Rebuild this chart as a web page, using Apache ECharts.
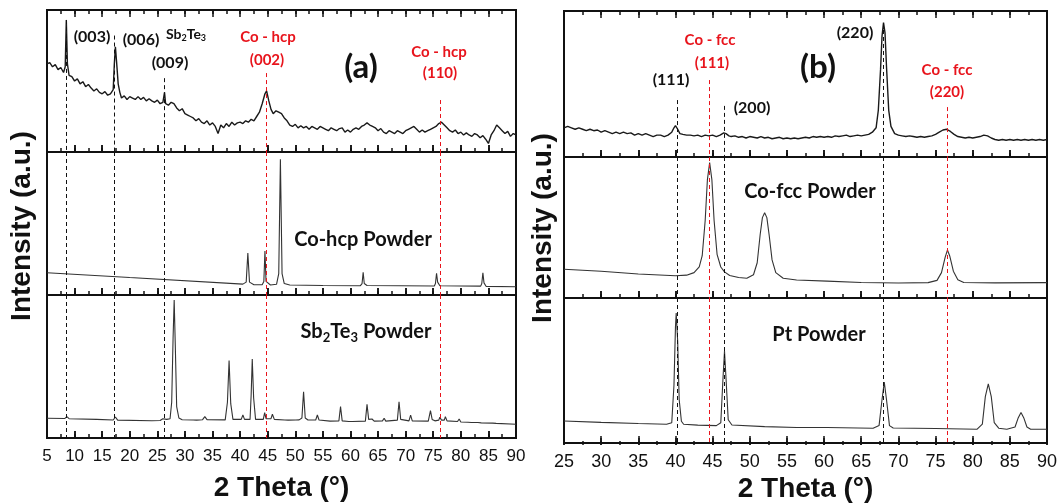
<!DOCTYPE html>
<html>
<head>
<meta charset="utf-8">
<script src="https://cdn.jsdelivr.net/npm/echarts@6/dist/echarts.min.js"></script>
<style>
  html, body { margin: 0; background: #fff; }
  #chart { width: 1061px; height: 504px; }
</style>
</head>
<body>
<div id="chart"></div>
<script>
// 2 theta ranges of the two panels
const rangeA = [5, 90];
const rangeB = [25, 90];

// (a) Co / Sb2Te3 film scan  [2theta, intensity]
const filmA = [
  [5,62],[5.5,63],[6,60],[6.5,61.5],[7,58],[7.5,59.5],[8,56],[8.3,60],[8.5,93],[8.7,62],[9,54],[9.5,53],
  [10,50],[10.5,51.5],[11,48],[11.5,49.5],[12,46],[12.5,47.5],[13,45],[13.5,43],[14,44.5],[14.5,42],
  [15,41],[15.5,42.5],[16,40],[16.5,41],[17,44],[17.2,62],[17.4,74],[17.6,64],[17.9,48],[18.2,42],
  [18.5,38],[19,39.5],[19.5,37],[20,39],[20.5,38],[21,37],[21.5,39],[22,37],[22.5,38.5],[23,36],
  [23.5,37.5],[24,36],[24.5,35],[25,36.5],[25.5,34],[26,35],[26.3,42],[26.5,34],[27,33],[27.5,35],
  [28,34],[28.5,31],[29,29],[29.5,30.5],[30,27],[30.5,26],[31,25],[31.5,24],[32,22],[32.5,23.5],
  [33,21],[33.5,20],[34,22],[34.5,19],[35,20.5],[35.5,18],[36,13],[36.5,19],[37,17],[37.5,20],
  [38,18],[38.5,21],[39,19],[39.5,20.5],[40,21],[40.5,20],[41,22],[41.5,21],[42,23],[42.5,22],
  [43,25],[43.5,28],[44,34],[44.5,41],[44.8,43],[45.2,36],[45.6,30],[46,27],[46.5,29],[47,28],
  [47.5,27],[48,24],[48.5,22],[49,19],[49.5,18],[50,19.5],[50.5,17],[51,18.5],[51.5,17],[52,18],
  [52.5,16],[53,18],[53.5,17],[54,16],[54.5,18],[55,17],[55.5,16],[56,15],[56.5,17],[57,16],
  [57.5,15],[58,16.5],[58.5,17],[59,14],[59.5,15.5],[60,14],[60.5,16],[61,17],[61.5,16],[62,18],
  [62.5,19],[63,20.5],[63.5,19],[64,18],[64.5,17],[65,15],[65.5,16.5],[66,14],[66.5,13],[67,15],
  [67.5,14],[68,13],[68.5,15],[69,14],[69.5,13],[70,15],[70.5,16],[71,17],[71.5,18],[72,16],
  [72.5,14],[73,15.5],[73.5,14],[74,15],[74.5,16],[75,17],[75.5,18],[76,20],[76.5,21],[77,19],
  [77.5,17],[78,15],[78.5,14],[79,15.5],[79.5,13],[80,14],[80.5,12],[81,13.5],[81.5,12],[82,11],
  [82.5,13],[83,12],[83.5,10],[84,11.5],[84.5,9],[85,6],[85.5,12],[86,15],[86.5,19],[87,17],
  [87.5,15],[88,13],[88.5,14.5],[89,11],[89.5,13],[90,12]
];

// (a) Co-hcp powder
const coHcp = [
  [5,15.6],[20,12.2],[40.5,7.6],[41.1,9],[41.4,29.4],[41.7,9],[42.5,7.2],[44,7.2],[44.3,9.5],
  [44.5,30.8],[44.7,9.5],[45.5,7],[46.6,7.5],[47,15],[47.3,95],[47.6,15],[48,8],[49,7],[55,6.6],
  [61.8,6.5],[62.1,8],[62.3,15.9],[62.5,8],[63,6.6],[75.2,6.3],[75.4,8],[75.6,15.2],[75.8,9],
  [76.2,6.5],[83.6,6.2],[83.8,8],[84,15.6],[84.2,8.5],[84.6,6],[90,5.8]
];

// (a) Sb2Te3 powder
const sb2te3 = [
  [5,13.8],[8.2,13.6],[8.6,14.9],[9,13.5],[14,13],[17,12.6],[17.4,14.7],[17.8,12.5],[24,12.1],
  [25.5,12.2],[26,13.5],[26.3,14.2],[26.7,13],[27.3,13.5],[27.6,25],[27.85,70],[28.05,96.5],
  [28.25,65],[28.5,22],[28.9,14],[29.5,12.8],[31.5,12.6],[31.8,13.2],[32.1,12.5],[33.2,12.8],
  [33.6,14.9],[34,12.8],[37.3,12.7],[37.7,25],[38,54.1],[38.3,24],[38.7,13],[40.2,13],[40.5,16.1],
  [40.8,13],[41.8,13],[42,30],[42.2,55.2],[42.45,28],[42.8,13],[44.2,13],[44.45,17.7],[44.7,13.5],
  [45.6,13.5],[45.85,16.6],[46.2,13],[48.1,12.6],[48.4,13.5],[48.7,12.5],[50.1,12.6],[50.4,13.1],
  [50.7,12.7],[51.2,14],[51.5,32.4],[51.8,14],[52.3,12.6],[53.7,12.6],[54,16.1],[54.3,12.6],
  [56.3,11.8],[57.9,12],[58.2,21.9],[58.5,12],[59.7,11.5],[60,12.5],[60.4,11.5],[62.7,11.8],
  [63,23.5],[63.3,13],[63.9,13.3],[64.3,11.8],[65.8,12],[66.1,13.8],[66.4,11.8],[68.5,12.5],
  [68.8,25.4],[69.1,13],[70.6,12],[70.9,16],[71.2,12],[74.1,11.8],[74.5,19.1],[74.8,13],[75.3,12],
  [76,12.5],[76.2,14.5],[76.5,12.5],[77,12.5],[77.2,14.9],[77.5,12],[79.4,11.5],[79.7,13.3],
  [80,11.2],[81.3,11],[81.6,12.2],[81.9,10.8],[83.1,10.8],[83.4,11.5],[83.7,10.6],[85.8,10.4],
  [86.1,11],[86.4,10.2],[90,9.6]
];

// (b) Co / Pt film scan
const filmB = [
  [25,20],[25.5,21],[26,20],[26.5,19],[27,20],[27.5,19],[28,18],[28.5,19],[29,18],[29.5,18.5],
  [30,17],[30.5,18],[31,17],[31.5,16],[32,17],[32.5,16],[33,17],[33.5,16],[34,16.5],[34.5,15],
  [35,16],[35.5,15],[36,16],[36.5,15],[37,14],[37.5,15],[38,15],[38.5,14],[39,15],[39.5,17],
  [39.8,20],[40,21.5],[40.3,19],[40.6,16],[41,15.5],[41.5,15],[42,15],[42.5,14.5],[43,15],
  [43.5,14],[44,15],[44.5,14.5],[45,15],[45.5,14],[46,15],[46.5,16.5],[46.8,16],[47.2,14.5],
  [47.5,14],[48,14.5],[48.5,13.5],[49,14],[49.5,13],[50,14],[50.5,13.5],[51,13],[51.5,14],
  [52,13],[52.5,13.5],[53,12.5],[53.5,13],[54,13.5],[54.5,12.5],[55,13],[55.5,12.5],[56,13],
  [56.5,12.5],[57,13],[57.5,13.5],[58,13],[58.5,14],[59,13.5],[59.5,14],[60,13.5],[60.5,14],
  [61,13.5],[61.5,14.5],[62,14],[62.5,14.5],[63,15],[63.5,14],[64,14.5],[64.5,15],[65,14.5],
  [65.5,15],[66,15.5],[66.5,17],[67,20],[67.3,32],[67.6,60],[67.8,83],[68,92],[68.2,85],[68.4,62],
  [68.7,32],[69,21],[69.5,16],[70,15],[70.5,14.5],[71,14],[71.5,14.5],[72,14],[72.5,13.5],[73,14],
  [73.5,13.5],[74,14],[74.5,14.5],[75,15.5],[75.5,17],[76,18.5],[76.5,19],[77,17.5],[77.5,15.5],
  [78,14],[78.5,13.5],[79,13],[79.5,13.5],[80,13],[80.5,13.5],[81,14],[81.5,15],[82,14.5],[82.5,13],
  [83,12],[83.5,11.5],[84,12],[84.5,11.5],[85,12],[85.5,11.5],[86,12],[86.5,11.5],[87,12],
  [87.5,11.5],[88,12],[88.5,11.5],[89,12],[89.5,11.5],[90,12]
];

// (b) Co-fcc powder
const coFcc = [
  [25,20.4],[30,19],[35,17],[40,15.8],[41.5,16.2],[42.5,18],[43.2,22],[43.6,30],[44,55],[44.3,84],
  [44.6,96],[44.9,84],[45.2,55],[45.6,31],[46.1,22],[46.6,18.5],[47.3,16],[48.5,14.5],[49.6,14],
  [50.5,16.5],[51,25],[51.4,45],[51.7,57],[52,60.5],[52.3,57],[52.6,45],[53,27],[53.5,18],
  [54.5,14],[56.3,12.8],[60.4,12],[65,11],[70,10.6],[74,10.9],[75.2,12.5],[75.8,18],[76.3,29],
  [76.6,34],[76.9,30],[77.4,19],[78,13],[78.8,11],[83,10.7],[90,10.9]
];

// (b) Pt powder
const ptPowder = [
  [25,15.2],[30,14.2],[35,13.4],[38.8,12.9],[39.5,14],[39.8,40],[40,80],[40.1,89.6],[40.3,70],
  [40.5,30],[40.8,15],[41.1,12.9],[43,12.3],[45.5,12],[46.1,14],[46.4,45],[46.6,63.5],[46.8,45],
  [47.1,16],[47.6,12.4],[52,11.3],[56.3,10.7],[60.4,10.7],[66.6,10.2],[67.4,12],[67.8,30],
  [68.1,42],[68.4,30],[68.8,12],[69.3,10.3],[75,10],[80.6,9.5],[81.3,13],[81.7,32],[82.1,40.8],
  [82.5,32],[82.9,14],[83.5,10.2],[84.6,9.5],[85.7,11],[86.1,17],[86.5,21.1],[86.9,17],[87.3,11],
  [87.8,9.5],[90,9.5]
];

// reference positions [2theta, where the dash starts in the top panel]
const refA = [[8.4, 93], [17.2, 82], [26.3, 52]];
const refACo = [[44.7, 55.6], [76.3, 36.6]];
const refB = [[40.2, 39], [46.6, 35], [68.0, 91.8]];
const refBCo = [[44.5, 52.7], [76.6, 34.2]];

const BLACK = '#111';
const RED = '#e8141c';

const chart = echarts.init(document.getElementById('chart'));

// panel boxes
const panels = [
  { left: 47, top: 10, width: 469, height: 142 },
  { left: 47, top: 152, width: 469, height: 143 },
  { left: 47, top: 295, width: 469, height: 143 },
  { left: 564, top: 11, width: 483, height: 146 },
  { left: 564, top: 157, width: 483, height: 141 },
  { left: 564, top: 298, width: 483, height: 147 },
];
const grids = panels.map(p => Object.assign({}, p, { show: true, borderColor: BLACK, borderWidth: 2 }));

const xAxes = [];
const yAxes = [];
panels.forEach((p, i) => {
  const range = i < 3 ? rangeA : rangeB;
  const isBottom = i === 2 || i === 5;
  const ax = {
    type: 'value', gridIndex: i, min: range[0], max: range[1], interval: 5,
    axisLine: { show: true, onZero: false, lineStyle: { color: BLACK, width: 2 } },
    axisTick: { show: true, inside: true, length: 7, lineStyle: { color: BLACK, width: 1.5 } },
    axisLabel: isBottom
      ? { show: true, color: BLACK, fontFamily: 'Liberation Sans', fontSize: i < 3 ? 17 : 18, margin: 10 }
      : { show: false },
    splitLine: { show: false },
  };
  if (isBottom) {
    Object.assign(ax, {
      name: '2 Theta (°)', nameLocation: 'middle', nameGap: i < 3 ? 36 : 32,
      nameTextStyle: { fontFamily: 'Liberation Sans', fontWeight: 'bold', fontSize: 28, color: BLACK },
    });
  }
  xAxes.push(ax);
  yAxes.push({ type: 'value', gridIndex: i, min: 0, max: 100, show: false });
});

// inward tick marks: thin strips along panel edges whose split lines act as ticks
function tickStrip(p, i, atTop, step, len) {
  const range = i < 3 ? rangeA : rangeB;
  const gi = grids.length;
  grids.push({ left: p.left, width: p.width, top: atTop ? p.top : p.top + p.height - len, height: len, show: false });
  xAxes.push({
    type: 'value', gridIndex: gi, min: range[0], max: range[1], interval: step,
    axisLine: { show: false }, axisTick: { show: false }, axisLabel: { show: false },
    splitLine: { show: true, lineStyle: { color: BLACK, width: 1.5 } },
  });
  yAxes.push({ type: 'value', gridIndex: gi, min: 0, max: 1, show: false });
}
panels.forEach((p, i) => {
  tickStrip(p, i, false, 5, 7);
  tickStrip(p, i, false, 2.5, 4);
  if (i === 0 || i === 3) {
    tickStrip(p, i, true, 5, 7);
    tickStrip(p, i, true, 2.5, 4);
  }
});

function refLines(refs, color, isTop) {
  return refs.map(r => isTop
    ? [{ coord: [r[0], r[1]] }, { coord: [r[0], 0] }]
    : [{ coord: [r[0], 100] }, { coord: [r[0], 0] }]
  ).map(seg => seg.map(p => Object.assign(p, { lineStyle: { color, type: [4, 3], width: 1 } })));
}

const scans = [filmA, coHcp, sb2te3, filmB, coFcc, ptPowder];
const series = scans.map((data, i) => {
  const isTop = i === 0 || i === 3;
  const black = i < 3 ? refA : refB;
  const red = i < 3 ? refACo : refBCo;
  return {
    type: 'line', xAxisIndex: i, yAxisIndex: i, data,
    showSymbol: false, smooth: false,
    lineStyle: { color: isTop ? '#1a1a1a' : '#333', width: isTop ? 1.4 : 1.1 },
    markLine: {
      silent: true, symbol: ['none', 'none'], label: { show: false },
      data: refLines(black, BLACK, isTop).concat(refLines(red, RED, isTop)),
    },
  };
});

function txt(x, y, text, size, color, extra) {
  return {
    type: 'text', x, y, silent: true,
    style: Object.assign({
      text, align: 'center', verticalAlign: 'middle',
      fontFamily: 'Lato', fontWeight: 'bold', fontSize: size, fill: color || BLACK,
    }, extra || {}),
  };
}

function subRich(size, subSize) {
  return {
    n: { fontFamily: 'Lato', fontWeight: 'bold', fontSize: size, lineHeight: size + 4, fill: BLACK },
    s: { fontFamily: 'Lato', fontWeight: 'bold', fontSize: subSize, lineHeight: subSize, verticalAlign: 'bottom', fill: BLACK },
  };
}

const graphics = [
  // (a)
  txt(92, 37, '(003)', 16),
  txt(141, 40, '(006)', 16),
  txt(186, 34, '{n|Sb}{s|2}{n|Te}{s|3}', 14, BLACK, { rich: subRich(14, 9) }),
  txt(170, 63, '(009)', 16),
  txt(268, 37, 'Co - hcp', 15, RED),
  txt(267, 60, '(002)', 15, RED),
  txt(361, 67, '(a)', 33),
  txt(439, 52, 'Co - hcp', 15, RED),
  txt(440, 73, '(110)', 15, RED),
  txt(363, 240, 'Co-hcp Powder', 20),
  txt(366, 332, '{n|Sb}{s|2}{n|Te}{s|3}{n| Powder}', 20, BLACK, { rich: subRich(20, 13) }),
  // (b)
  txt(710, 40, 'Co - fcc', 15, RED),
  txt(712, 63, '(111)', 15, RED),
  txt(671, 80, '(111)', 16),
  txt(752, 108, '(200)', 16),
  txt(855, 33, '(220)', 16),
  txt(818, 67, '(b)', 33),
  txt(947, 70, 'Co - fcc', 15, RED),
  txt(947, 92, '(220)', 15, RED),
  txt(810, 192, 'Co-fcc Powder', 20),
  txt(819, 335, 'Pt Powder', 20),
  // y titles
  Object.assign(txt(22, 226, 'Intensity (a.u.)', 28, BLACK, { fontFamily: 'Liberation Sans' }), { rotation: Math.PI / 2 }),
  Object.assign(txt(543, 228, 'Intensity (a.u.)', 28, BLACK, { fontFamily: 'Liberation Sans' }), { rotation: Math.PI / 2 }),
];

chart.setOption({
  animation: false,
  grid: grids,
  xAxis: xAxes,
  yAxis: yAxes,
  series,
  graphic: graphics,
});
</script>
</body>
</html>
